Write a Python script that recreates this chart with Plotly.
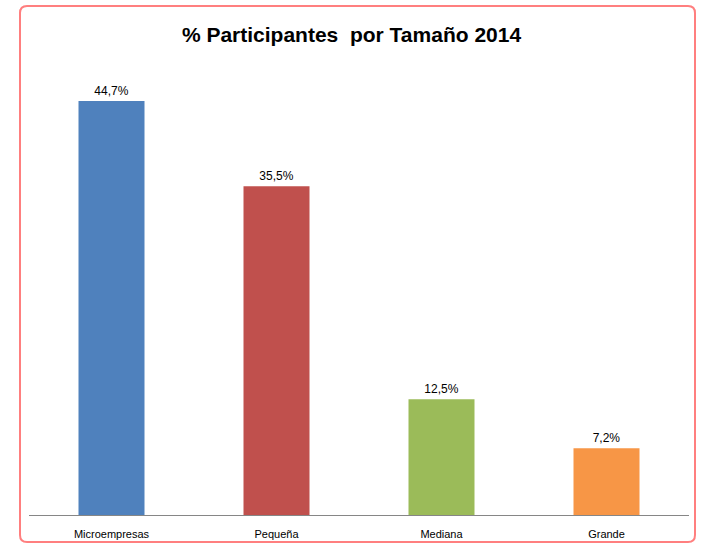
import plotly.graph_objects as go

categories = ["Microempresas", "Pequeña", "Mediana", "Grande"]
shares = [44.7, 35.5, 12.5, 7.2]
bar_colors = ["#4F81BD", "#C0504D", "#9BBB59", "#F79646"]

W, H = 703, 544
ml, mr, mt, mb = 29, 14, 52, 29
pw, ph = W - ml - mr, H - mt - mb


def px_x(p):
    return (p - ml) / pw


def px_y(p):
    return (H - mb - p) / ph


# rounded border around the whole chart (pixel values converted to paper units)
x0, x1 = px_x(20), px_x(695)
y0, y1 = px_y(542), px_y(6)
rx, ry = 7 / pw, 7 / ph
border = (
    f"M {x0 + rx},{y1} L {x1 - rx},{y1} Q {x1},{y1} {x1},{y1 - ry} "
    f"L {x1},{y0 + ry} Q {x1},{y0} {x1 - rx},{y0} "
    f"L {x0 + rx},{y0} Q {x0},{y0} {x0},{y0 + ry} "
    f"L {x0},{y1 - ry} Q {x0},{y1} {x0 + rx},{y1} Z"
)

fig = go.Figure(
    go.Bar(
        x=categories,
        y=shares,
        marker=dict(color=bar_colors, line=dict(width=0)),
        width=0.4,
        texttemplate="%{y:.1f}%",
        textposition="outside",
        textfont=dict(size=12, color="#000000"),
        cliponaxis=False,
    )
)

fig.update_layout(
    width=W,
    height=H + 8,
    margin=dict(l=ml, r=mr, t=mt, b=mb),
    paper_bgcolor="white",
    plot_bgcolor="white",
    separators=",.",
    showlegend=False,
    font=dict(family="Liberation Sans, Arial, sans-serif", size=11, color="#000000"),
    title=dict(
        text="<b>% Participantes  por Tamaño 2014</b>",
        x=0.5,
        xanchor="center",
        xref="container",
        y=1 - 34 / H,
        yanchor="middle",
        yref="container",
        font=dict(size=21, color="#000000"),
    ),
    shapes=[
        dict(
            type="path",
            path=border,
            xref="paper",
            yref="paper",
            line=dict(color="#FF7F7F", width=2),
            layer="above",
        )
    ],
)
fig.update_xaxes(
    showline=True,
    linecolor="#868686",
    linewidth=1,
    showgrid=False,
    ticks="",
    ticklabelstandoff=9,
    tickfont=dict(size=11),
)
fig.update_yaxes(range=[0, 50], visible=False, showgrid=False)

# the page body has a default 8px margin; drop it so the figure fills the window
page_fix = (
    "document.body.style.margin = '0';"
    "document.body.style.overflow = 'hidden';"
    "document.documentElement.style.overflow = 'hidden';"
)
fig.write_html(
    "out.html",
    config={"displayModeBar": False},
    post_script=page_fix,
)
